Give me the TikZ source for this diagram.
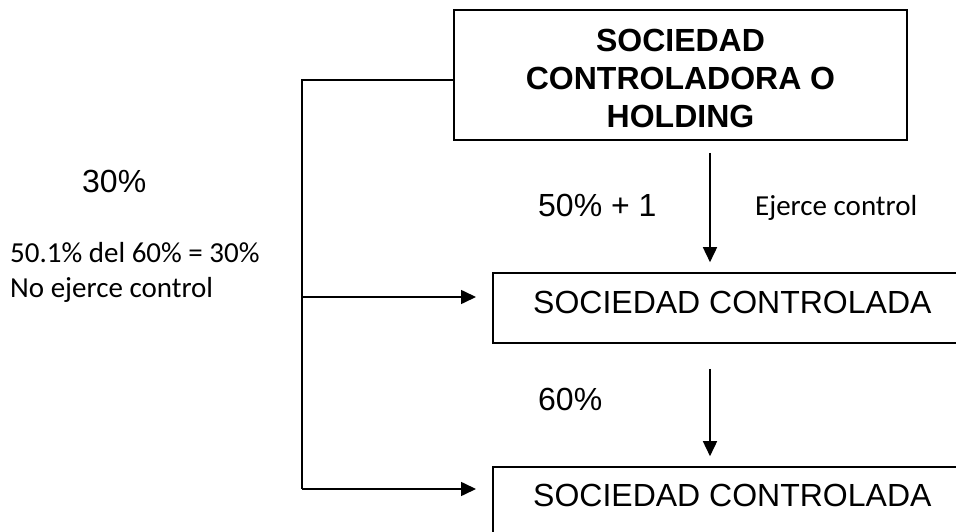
\documentclass[tikz,border=0pt]{standalone}
\usepackage{fontspec}
\setmainfont{Liberation Sans}
\newfontfamily\calfont{Carlito}
\usetikzlibrary{arrows.meta}

\begin{document}
\begin{tikzpicture}[x=1bp,y=-1bp,
  box/.style={draw=black, line width=1.6bp, inner sep=0pt, rectangle},
  conn/.style={draw=black, line width=1.6bp},
  arr/.style={conn, -{Triangle[length=15bp,width=14bp]}},
  arialtxt/.style={inner sep=0pt, font=\fontsize{32bp}{38bp}\selectfont},
  caltxt/.style={inner sep=0pt, font=\calfont\fontsize{29bp}{35bp}\selectfont}]

  \useasboundingbox (0,0) rectangle (956,532);
  \clip (0,0) rectangle (956,532);

  % company boxes (the two lower ones run past the right edge)
  \node[box, minimum width=453bp, minimum height=130bp] (hold) at (680.5,75) {};
  \node[inner sep=0pt, align=center,
        font=\bfseries\fontsize{32bp}{38bp}\selectfont] (holdText) at (680.5,78)
        {SOCIEDAD\\CONTROLADORA O\\HOLDING};
  \node[box, minimum width=487bp, minimum height=70bp] (ctlA) at (736.5,308) {};
  \node[box, minimum width=487bp, minimum height=70bp] (ctlB) at (736.5,502) {};
  \node[arialtxt, anchor=base west] (ctlAText) at (533,314) {SOCIEDAD CONTROLADA};
  \node[arialtxt, anchor=base west] (ctlBText) at (533,506) {SOCIEDAD CONTROLADA};

  % routing points of the side connector
  \coordinate (bendTop) at (302,80);
  \coordinate (bendBot) at (302,489);
  \coordinate (tipA) at (476,297);
  \coordinate (tipB) at (476,489);
  \coordinate (colX) at (710,0);

  % direct shareholdings
  \draw[arr] ([yshift=-12bp]hold.south -| colX) -- ([yshift=10bp]ctlA.north -| colX);
  \draw[arr] ([yshift=-25bp]ctlA.south -| colX) -- ([yshift=10bp]ctlB.north -| colX);

  % indirect holding line
  \draw[conn] (hold.west |- bendTop) -- (bendTop) -- (bendBot);
  \draw[arr] (bendTop |- tipA) -- (tipA);
  \draw[arr] (bendBot) -- (tipB);

  % labels
  \node[arialtxt, anchor=base west] (pctDirect) at (538,217) {50\% + 1};
  \node[caltxt, anchor=base west] (ctlYes) at (755,216) {Ejerce control};
  \node[arialtxt, anchor=base west] (pctSixty) at (538,410) {60\%};
  \node[arialtxt, anchor=base west] (pctThirty) at (82,193) {30\%};
  \node[caltxt, anchor=base west] (calcLine) at (10,263) {50.1\% del 60\% = 30\%};
  \node[caltxt, anchor=base west] (ctlNo) at (10,298) {No ejerce control};
\end{tikzpicture}
\end{document}
